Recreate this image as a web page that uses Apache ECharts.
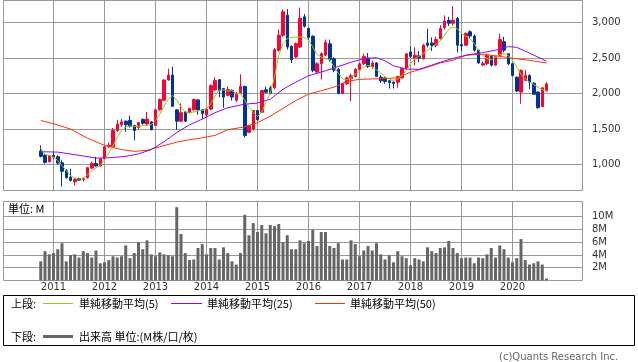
<!DOCTYPE html>
<html><head><meta charset="utf-8">
<script src="https://cdn.jsdelivr.net/npm/echarts@6/dist/echarts.min.js"></script>
<style>html,body{margin:0;padding:0;background:#fff}#c{width:638px;height:362px}</style>
</head><body><div id="c"></div>
<script>
// ---- data (monthly) ----
const months = [];
(function(){ for (let y = 2010, m = 10; months.length < 120; ) { months.push(y + '-' + String(m).padStart(2,'0')); m++; if (m > 12) { m = 1; y++; } } })();

const open  = [1190,1130,1040,1130,1110,1025,915,820,755,805,790,815,950,1015,980,1080,1255,1250,1480,1560,1610,1620,1550,1520,1635,1570,1600,1550,1770,1905,2190,2260,1770,1610,1740,1730,1770,1910,1770,1700,1780,2050,2195,2070,1975,2045,1905,2005,2100,1455,1500,1760,1736,2052,2080,2080,2608,2821,3104,2665,2514,2656,3080,2915,2807,2302,2420,2540,2700,2490,2340,2000,2140,2210,2240,2340,2420,2500,2380,2430,2230,2220,2180,2160,2160,2220,2350,2585,2490,2530,2490,2712,2712,2680,2775,2930,3030,2990,3057,2690,2680,2870,2810,2610,2400,2420,2520,2400,2540,2730,2560,2420,2230,2020,2185,2255,2145,2020,1815,2035];
const close = [1115,1030,1125,1105,1020,905,815,775,790,780,800,955,1015,980,1080,1250,1270,1480,1570,1600,1560,1540,1480,1590,1580,1640,1490,1770,1915,2190,2260,1820,1610,1730,1610,1790,1915,1770,1720,1780,2110,2185,2045,1950,2055,1950,2005,2100,1410,1545,1760,1630,2042,2019,2005,2618,2821,3151,2656,2476,2703,3057,2948,2788,2325,2420,2561,2720,2480,2330,2000,2140,2220,2250,2340,2420,2520,2380,2430,2240,2180,2170,2155,2140,2240,2350,2560,2524,2540,2500,2680,2680,2680,2760,2915,3020,2990,3030,2680,2670,2845,2810,2610,2430,2420,2540,2400,2520,2760,2610,2420,2255,2035,2325,2255,2160,1990,1800,2080,2135];
const low   = [1100,1010,1030,1080,1000,690,800,760,705,770,760,800,935,970,970,1070,1230,1240,1460,1530,1460,1520,1340,1500,1560,1560,1480,1540,1760,1900,2180,1810,1490,1600,1600,1720,1760,1700,1640,1680,1770,2040,1950,1800,1960,1900,1880,1990,1380,1440,1480,1620,1730,2000,1990,2060,2590,2800,2620,2430,2500,2640,2930,2760,2300,2290,2200,2530,2450,2300,1990,1990,2120,1890,2230,2320,2400,2360,2350,2230,2150,2140,2070,2070,2080,2210,2330,2500,2400,2440,2480,2650,2600,2650,2760,2900,2950,2960,2580,2600,2670,2780,2590,2420,2390,2400,2380,2390,2530,2580,2400,2240,2020,1855,2180,2060,1980,1785,1810,2030];
const high  = [1270,1150,1135,1180,1130,1060,935,940,810,815,815,965,1040,1110,1090,1260,1310,1515,1630,1640,1620,1690,1560,1600,1650,1740,1610,1780,1930,2200,2350,2380,1780,1860,1750,1800,1930,1920,1780,1800,2130,2230,2200,2080,2100,2060,2020,2270,2110,1560,1770,1775,2050,2100,2110,2640,2900,3180,3190,2680,2720,3210,3120,2930,2820,2440,2580,2760,2760,2510,2360,2150,2240,2280,2360,2430,2560,2570,2460,2440,2260,2230,2190,2170,2250,2360,2570,2665,2650,2600,2700,2915,2790,2800,2960,3100,3080,3230,3080,2840,2860,2890,2830,2620,2450,2560,2540,2530,2840,2800,2560,2430,2240,2340,2330,2270,2160,2030,2090,2160];
const volume = [3.0,4.6,4.1,4.3,4.9,5.85,3.0,4.0,4.1,3.6,4.6,4.3,3.6,4.7,2.7,2.85,3.2,3.8,3.6,3.8,5.5,3.5,4.3,6.0,4.9,6.3,4.1,3.8,4.4,4.1,3.95,3.8,11.5,7.3,4.3,3.2,3.3,5.1,5.7,4.1,5.1,5.1,3.3,5.2,4.3,3.0,2.5,4.3,10.3,7.1,9.0,7.6,8.7,7.4,8.7,8.5,8.85,6.0,7.1,4.9,4.9,6.3,5.85,6.2,7.96,5.4,7.6,7.6,5.4,5.1,5.85,3.3,3.3,6.3,5.7,3.8,4.7,5.4,4.7,5.85,4.1,3.3,3.95,2.85,4.6,3.8,3.5,2.4,3.5,3.3,3.0,5.2,4.6,4.3,5.1,5.2,6.2,5.1,4.3,3.5,3.6,3.6,2.7,3.6,3.5,4.1,5.1,3.6,5.5,4.9,3.6,2.85,3.5,6.5,3.2,2.5,2.7,3.0,2.5,0.3];
const ma5 = [1230,1141,1127,1103,1056,985,914,844,810,796,810,858,914,952,985,1065,1160,1268,1377,1481,1528,1542,1537,1537,1547,1552,1561,1622,1707,1821,1915,1976,1906,1811,1740,1726,1740,1755,1764,1788,1850,1960,2050,2052,2033,2042,1995,2005,1901,1807,1736,1675,1736,1880,2005,2231,2538,2703,2774,2788,2797,2797,2788,2750,2656,2552,2514,2491,2476,2373,2288,2208,2193,2222,2269,2316,2373,2396,2373,2335,2288,2241,2200,2184,2208,2255,2325,2420,2491,2524,2561,2608,2656,2693,2741,2821,2901,2939,2915,2844,2807,2774,2703,2608,2538,2491,2476,2514,2552,2561,2538,2467,2373,2269,2208,2160,2127,2090,2052,2042];
const ma25Months = ['2010-10','2011-02','2011-07','2011-11','2012-02','2012-06','2012-09','2012-12','2013-03','2013-06','2013-09','2013-12','2014-03','2014-06','2014-10','2015-01','2015-04','2015-07','2015-10','2016-01','2016-05','2016-08','2016-11','2017-02','2017-05','2017-07','2017-09','2017-12','2018-03','2018-06','2018-09','2018-12','2019-03','2019-06','2019-09','2019-12','2020-02','2020-05','2020-09'];
const ma25 = [1180,1175,1130,1090,1095,1115,1150,1210,1320,1450,1560,1640,1730,1800,1850,1865,1920,2060,2160,2250,2320,2380,2440,2490,2505,2460,2390,2345,2340,2400,2460,2510,2550,2575,2610,2660,2650,2570,2455];
const ma50Months = ['2010-10','2011-01','2011-05','2011-09','2012-01','2012-05','2012-08','2012-11','2013-02','2013-06','2013-09','2013-12','2014-03','2014-06','2014-10','2015-01','2015-04','2015-07','2015-10','2016-01','2016-04','2016-07','2016-10','2017-01','2017-04','2017-07','2017-10','2018-01','2018-04','2018-08','2018-11','2019-02','2019-05','2019-08','2019-11','2020-02','2020-05','2020-09'];
const ma50 = [1620,1575,1500,1370,1270,1210,1185,1200,1250,1315,1350,1375,1410,1490,1530,1590,1680,1790,1900,1990,2040,2090,2170,2200,2205,2210,2222,2300,2350,2430,2470,2538,2552,2540,2515,2490,2467,2430];
const priceTicks = [1000,1500,2000,2500,3000];
const volumeTicks = [2,4,6,8,10];
const years = ['2011','2012','2013','2014','2015','2016','2017','2018','2019','2020'];
const seriesNames = ['単純移動平均(5)','単純移動平均(25)','単純移動平均(50)'];

// ---- chart ----
const idx = m => months.indexOf(m);
const yearTicks = years.map(y => idx(y + '-01'));
const NUM = 'DejaVu Sans';
const JP = "'Noto Sans CJK JP', sans-serif";
const GRID = '#999';
const xMin = -8.765, xMax = 127.47;

function xAxis(gi, showLabel) {
  return {
    type: 'value', gridIndex: gi, min: xMin, max: xMax,
    axisLine: {show: false},
    axisTick: {show: false, customValues: yearTicks},
    axisLabel: {show: showLabel, customValues: yearTicks, margin: 2, fontSize: 10, color: '#333', fontFamily: NUM,
      formatter: v => months[Math.round(v)].slice(0, 4)},
    splitLine: {show: true, lineStyle: {color: GRID, width: 1}}
  };
}

const chart = echarts.init(document.getElementById('c'), null, {renderer: 'canvas'});
chart.setOption({
  animation: false,
  backgroundColor: '#fff',
  grid: [
    {left: 3.5, top: 0.5, width: 579, height: 190, show: true, borderColor: GRID, borderWidth: 1, containLabel: false},
    {left: 3.5, top: 201.5, width: 579, height: 79, show: true, borderColor: GRID, borderWidth: 1, containLabel: false}
  ],
  xAxis: [xAxis(0, false), xAxis(1, true)],
  yAxis: [
    {type: 'value', gridIndex: 0, position: 'right', min: 634, max: 3310,
     axisLine: {show: false},
     axisTick: {show: true, length: 4, lineStyle: {color: GRID}, customValues: priceTicks},
     axisLabel: {customValues: priceTicks, margin: 9.5, fontSize: 10, color: '#333', fontFamily: NUM,
       formatter: v => v.toLocaleString('en-US')},
     splitLine: {show: true, lineStyle: {color: GRID, width: 1}}},
    {type: 'value', gridIndex: 1, position: 'right', min: 0, max: 12.39,
     axisLine: {show: false},
     axisTick: {show: true, length: 4, lineStyle: {color: GRID}, customValues: volumeTicks},
     axisLabel: {customValues: volumeTicks, margin: 9.5, fontSize: 10, color: '#333', fontFamily: NUM,
       formatter: v => v + 'M'},
     splitLine: {show: true, lineStyle: {color: GRID, width: 1}}}
  ],
  series: [
    {type: 'candlestick', name: '株価', xAxisIndex: 0, yAxisIndex: 0, barWidth: 3,
     encode: {x: 0, y: [1, 2, 3, 4]},
     itemStyle: {color: '#FF0033', color0: '#003399', borderColor: '#FF0033', borderColor0: '#003399', borderWidth: 1},
     data: months.map((m, i) => [i, open[i], close[i], low[i], high[i]])},
    {type: 'line', name: seriesNames[2], xAxisIndex: 0, yAxisIndex: 0, symbol: 'none',
     lineStyle: {color: '#FF3300', width: 1}, data: ma50Months.map((m, k) => [idx(m), ma50[k]])},
    {type: 'line', name: seriesNames[1], xAxisIndex: 0, yAxisIndex: 0, symbol: 'none',
     lineStyle: {color: '#9900FF', width: 1}, data: ma25Months.map((m, k) => [idx(m), ma25[k]])},
    {type: 'line', name: seriesNames[0], xAxisIndex: 0, yAxisIndex: 0, symbol: 'none',
     lineStyle: {color: '#99CC00', width: 1}, data: months.map((m, i) => [i, ma5[i]])},
    {type: 'bar', name: '出来高', xAxisIndex: 1, yAxisIndex: 1, barWidth: 3,
     itemStyle: {color: '#666666'}, data: months.map((m, i) => [i, volume[i]])}
  ],
  graphic: [
    {type: 'text', left: 8, top: 203, style: {text: '単位: M', fontSize: 11, fontFamily: JP, fill: '#000'}},
    {type: 'rect', shape: {x: 3.5, y: 295.5, width: 631, height: 50}, style: {fill: 'none', stroke: '#000', lineWidth: 1}},
    {type: 'text', x: 11, y: 303.5, style: {text: '上段:', fontSize: 11, fontFamily: JP, fill: '#000', verticalAlign: 'middle'}},
    {type: 'line', shape: {x1: 43, y1: 303.5, x2: 73, y2: 303.5}, style: {stroke: '#99CC00', lineWidth: 1}},
    {type: 'text', x: 79, y: 303.5, style: {text: seriesNames[0], fontSize: 11, fontFamily: JP, fill: '#000', verticalAlign: 'middle'}},
    {type: 'line', shape: {x1: 171, y1: 303.5, x2: 202, y2: 303.5}, style: {stroke: '#9900FF', lineWidth: 1}},
    {type: 'text', x: 207, y: 303.5, style: {text: seriesNames[1], fontSize: 11, fontFamily: JP, fill: '#000', verticalAlign: 'middle'}},
    {type: 'line', shape: {x1: 315, y1: 303.5, x2: 345, y2: 303.5}, style: {stroke: '#FF3300', lineWidth: 1}},
    {type: 'text', x: 350, y: 303.5, style: {text: seriesNames[2], fontSize: 11, fontFamily: JP, fill: '#000', verticalAlign: 'middle'}},
    {type: 'text', x: 11, y: 337, style: {text: '下段:', fontSize: 11, fontFamily: JP, fill: '#000', verticalAlign: 'middle'}},
    {type: 'line', shape: {x1: 43, y1: 336.5, x2: 73, y2: 336.5}, style: {stroke: '#666666', lineWidth: 3}},
    {type: 'text', x: 79, y: 337, style: {text: '出来高 単位:(M株/口/枚)', fontSize: 11, fontFamily: JP, fill: '#000', verticalAlign: 'middle'}},
    {type: 'text', x: 499, y: 357.5, style: {text: '(c)Quants Research Inc.', fontSize: 10, fontFamily: NUM, fill: '#666', verticalAlign: 'middle'}}
  ]
});
</script>
</body></html>
